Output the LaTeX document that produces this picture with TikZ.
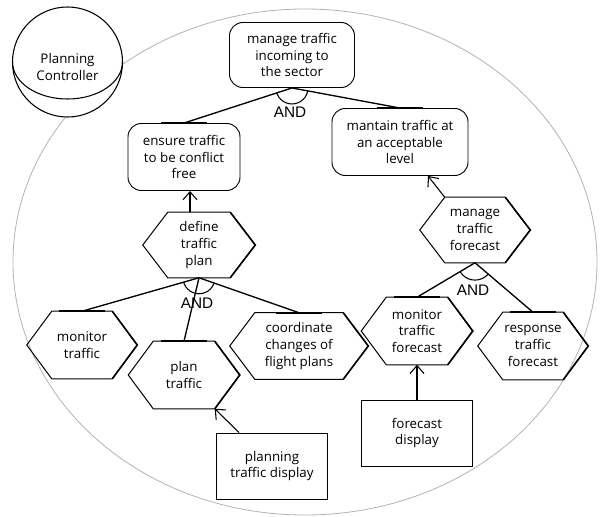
\documentclass[tikz,border=0pt]{standalone}
\usepackage{fontspec}
\setmainfont{Open Sans}
\newfontfamily\andfont{Liberation Sans}
\usetikzlibrary{arrows.meta,calc}

\begin{document}
\begin{tikzpicture}[x=0.75pt,y=-0.75pt,
  every node/.style={font=\fontsize{10}{12.5}\selectfont, align=center, text=black},
  dims/.style 2 args={minimum width=#1*0.75pt, minimum height=#2*0.75pt},
  goalbox/.style={draw, line width=0.7pt, rounded corners=10pt, inner sep=0pt},
  hexbox/.style={inner sep=0pt},
  resbox/.style={draw, line width=0.7pt, inner sep=0pt},
  hexline/.style={line width=0.75pt},
  decomp/.style={line width=1pt},
  topbar/.style={line width=1.5pt},
  andlbl/.style={font=\andfont\fontsize{11.5}{12}\selectfont},
  meansend/.style={line width=0.8pt, -{Straight Barb[length=6pt,width=10.5pt]}},
  boundary/.style={draw=black!30, line width=0.6pt}]

\useasboundingbox (0,0) rectangle (600,517);

% actor boundary
\draw[boundary] (305,262) ellipse [x radius=219pt, y radius=189.75pt];

% actor
\node[draw, circle, fill=white, line width=0.8pt, minimum size=82.5pt, inner sep=0pt] (actor) at (67.5,62) {};
\begin{scope}
  \clip (actor.center) rectangle ++(60,45) (actor.center) rectangle ++(-60,45);
  \draw[line width=0.8pt] (actor.center) ellipse [x radius=41.25pt, y radius=27.75pt];
\end{scope}
\node (actorlbl) at (67.5,67) {Planning\\Controller};

% goals
\node[goalbox, dims={125}{65}] (incoming) at (292,55) {manage traffic\\incoming to\\the sector};
\node[goalbox, dims={112}{67}] (ensure) at (184,157) {ensure traffic\\to be conflict\\free};
\node[goalbox, dims={136}{67}] (mantain) at (400,142) {mantain traffic at\\an acceptable\\level};

% tasks
\node[hexbox, dims={112}{65}] (define) at (199,245) {define\\traffic\\plan};
\node[hexbox, dims={110}{65}] (mtf) at (475,230) {manage\\traffic\\forecast};
\node[hexbox, dims={110}{67}] (montr) at (82,345) {monitor\\traffic};
\node[hexbox, dims={111}{67}] (plantr) at (184,375) {plan\\traffic};
\node[hexbox, dims={138}{66}] (coord) at (299,346) {coordinate\\changes of\\flight plans};
\node[hexbox, dims={111}{67}] (monfc) at (417,331) {monitor\\traffic\\forecast};
\node[hexbox, dims={110}{67}] (resp) at (533,346) {response\\traffic\\forecast};

\foreach \n in {define,mtf,montr,plantr,coord,monfc,resp} {
  \draw[hexline] (\n.west) -- ($(\n.north west)+(25,0)$) -- ($(\n.north east)+(-25,0)$)
    -- (\n.east) -- ($(\n.south east)+(-25,0)$) -- ($(\n.south west)+(25,0)$) -- cycle;
  \draw[hexline, line width=1.2pt] ($(\n.north east)+(-25,0)$) -- (\n.east) -- ($(\n.south east)+(-25,0)$);
}

% resources
\node[resbox, dims={111}{66}] (pdisp) at (272,466) {planning\\traffic display};
\node[resbox, dims={111}{66}] (fdisp) at (417,433) {forecast\\display};

% AND decompositions
\draw[decomp] (incoming.south) -- (ensure.north);
\draw[decomp] (incoming.south) -- (mantain.north);
\begin{scope}
  \clip (incoming.south) -- (ensure.north) -- (mantain.north) -- cycle;
  \draw[line width=0.8pt] (incoming.south) circle (12pt);
\end{scope}
\node[andlbl] (and1) at (290,112) {AND};

\draw[decomp] (define.south) -- (montr.north);
\draw[decomp] (define.south) -- (plantr.north);
\draw[decomp] (define.south) -- (coord.north);
\begin{scope}
  \clip (define.south) -- (montr.north) -- (coord.north) -- cycle;
  \draw[line width=0.8pt] (define.south) circle (12pt);
\end{scope}
\node[andlbl] (and2) at (197,303) {AND};

\draw[decomp] (mtf.south) -- (monfc.north);
\draw[decomp] (mtf.south) -- (resp.north);
\begin{scope}
  \clip (mtf.south) -- (monfc.north) -- (resp.north) -- cycle;
  \draw[line width=0.8pt] (mtf.south) circle (13pt);
\end{scope}
\node[andlbl] (and3) at (473,290) {AND};

% heavier bars where decomposition links meet their sub-elements
\foreach \n in {ensure,mantain,montr,plantr,coord,monfc,resp} {
  \draw[topbar] ($(\n.north)+(-23,0)$) -- ($(\n.north)+(23,0)$);
}

% means-end links
\coordinate (me1) at (190,0);
\draw[meansend] (me1 |- define.north) -- (me1 |- ensure.south);
\draw[meansend] ($(mtf.north west)+(25,0)$) -- ($(mantain.south)+(28,0)$);
\draw[meansend] ($(pdisp.north west)+(23,0)$) -- ($(plantr.south east)+(-25,0)$);
\draw[meansend] (fdisp.north) -- (monfc.south);

\end{tikzpicture}
\end{document}
